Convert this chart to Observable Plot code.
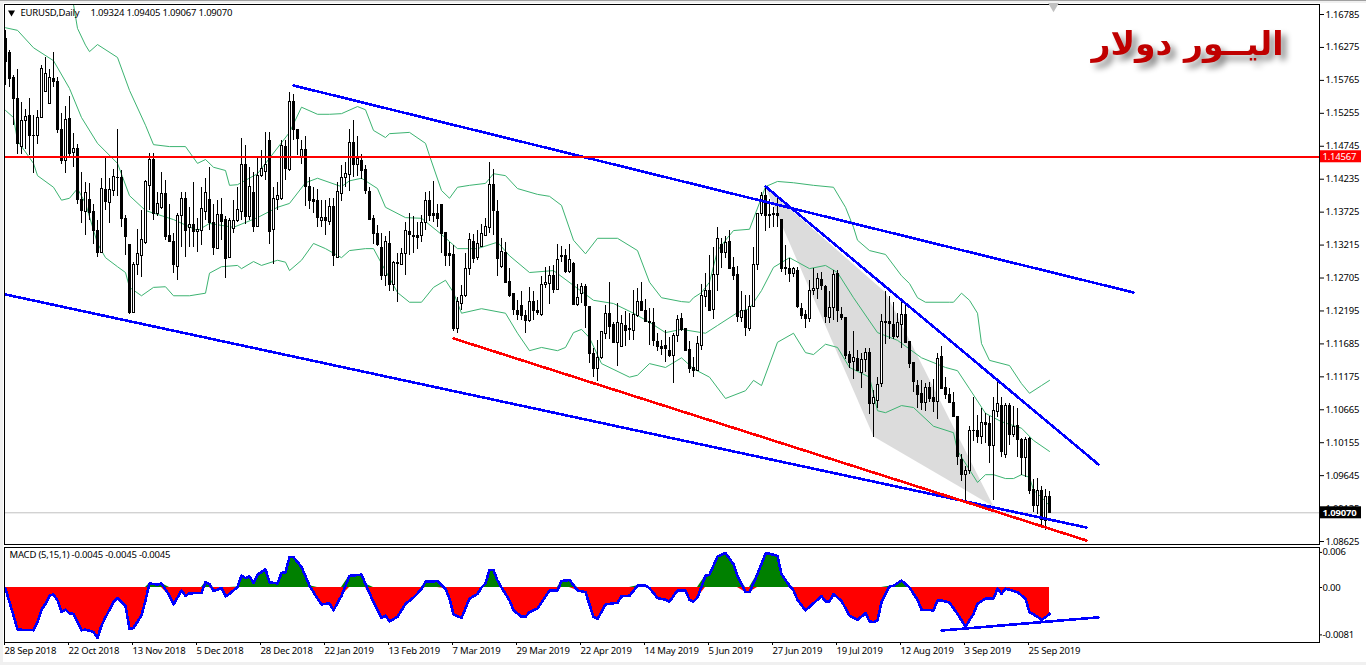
<!DOCTYPE html>
<html>
<head>
<meta charset="utf-8">
<script src="https://cdn.jsdelivr.net/npm/d3@7"></script>
<script src="https://cdn.jsdelivr.net/npm/@observablehq/plot@0.6"></script>
<style>
html,body{margin:0;padding:0;background:#fff;overflow:hidden}
body{height:665px;box-shadow:inset 0 1px 0 #a0a0a0,inset 3px 3px 0 #f0f0f0,inset -0px -3px 0 #f0f0f0}
svg{display:block;overflow:visible;letter-spacing:-0.2px}
#main{position:relative;z-index:1}
</style>
</head>
<body>
<div id="main"></div>
<div id="sub"></div>
<script>
// Daily candles, prices in units of 0.0001
const high=[11653,11623,11584,11594,11543,11532,11548,11522,11530,11599,
11612,11594,11620,11581,11525,11536,11551,11494,11477,11434,
11419,11417,11385,11359,11424,11455,11424,11439,11500,11437,
11367,11322,11295,11345,11375,11421,11464,11463,11403,11434,
11421,11384,11339,11370,11403,11403,11380,11419,11362,11411,
11424,11442,11385,11390,11393,11366,11362,11390,11411,11486,
11475,11442,11434,11455,11468,11496,11496,11411,11419,11483,
11483,11557,11555,11501,11483,11489,11426,11411,11408,11390,
11390,11394,11393,11419,11445,11450,11501,11514,11489,11461,
11445,11411,11367,11352,11340,11335,11343,11296,11308,11316,
11357,11371,11366,11357,11367,11403,11404,11420,11385,11383,
11341,11326,11321,11241,11259,11308,11340,11338,11344,11353,
11362,11449,11438,11390,11331,11326,11286,11247,11236,11250,
11220,11256,11249,11236,11273,11287,11289,11290,11323,11320,
11315,11323,11294,11260,11262,11261,11226,11161,11174,11187,
11228,11264,11202,11231,11212,11218,11215,11251,11255,11263,
11238,11224,11224,11184,11174,11189,11178,11184,11212,11215,
11192,11172,11148,11180,11261,11277,11305,11318,11349,11331,
11335,11344,11303,11288,11249,11243,11243,11317,11369,11403,
11414,11392,11380,11396,11361,11321,11300,11287,11287,11231,
11220,11267,11286,11277,11279,11259,11249,11282,11282,11225,
11209,11157,11187,11158,11153,11161,11162,11096,11117,11214,
11250,11242,11233,11216,11233,11230,11171,11139,11112,11112,
11107,11109,11113,11153,11164,11116,11099,11093,11056,10997,
10978,11040,11086,11058,11068,11060,11056,11086,11111,11086,
11076,11076,11072,11068,11022,11023,11023,10958,10960,10948,
10943,10940];
const open=[11641,11619,11580,11547,11474,11513,11522,11491,11490,11518,
11558,11540,11579,11574,11500,11451,11516,11464,11470,11391,
11372,11391,11372,11344,11309,11407,11387,11406,11426,11426,
11362,11322,11217,11290,11305,11324,11413,11453,11370,11379,
11400,11336,11327,11287,11366,11393,11348,11353,11341,11344,
11372,11391,11355,11316,11368,11361,11302,11346,11359,11372,
11445,11365,11402,11350,11428,11435,11483,11345,11391,11393,
11474,11438,11543,11500,11457,11468,11412,11392,11389,11359,
11363,11358,11381,11301,11400,11426,11430,11479,11446,11451,
11437,11403,11362,11339,11317,11273,11323,11260,11294,11290,
11308,11341,11336,11335,11335,11356,11389,11370,11370,11383,
11340,11307,11306,11192,11230,11242,11284,11327,11301,11319,
11335,11348,11414,11373,11287,11310,11265,11245,11220,11227,
11212,11204,11233,11219,11213,11259,11261,11273,11252,11304,
11304,11280,11292,11228,11245,11257,11226,11153,11130,11146,
11184,11215,11197,11170,11164,11196,11192,11189,11212,11233,
11220,11203,11201,11171,11164,11165,11157,11149,11181,11207,
11192,11159,11131,11127,11165,11241,11251,11221,11275,11322,
11310,11327,11286,11275,11208,11219,11191,11225,11291,11369,
11398,11368,11370,11370,11361,11286,11285,11276,11282,11223,
11214,11207,11250,11253,11267,11257,11208,11224,11277,11214,
11209,11151,11140,11145,11123,11144,11155,11075,11080,11106,
11203,11202,11198,11179,11198,11214,11171,11139,11104,11091,
11077,11100,11084,11079,11148,11100,11090,11077,11056,10988,
10966,10972,11034,11034,11024,11046,11044,11010,11063,11072,
10997,11072,11027,11041,11019,10992,11022,10943,10917,10940,
10895,10932];
const close=[11605,11579,11548,11478,11514,11520,11490,11490,11519,11594,
11587,11580,11574,11499,11452,11515,11463,11470,11391,11374,
11402,11371,11344,11310,11408,11388,11407,11427,11425,11362,
11334,11216,11291,11308,11329,11419,11453,11369,11385,11401,
11334,11327,11290,11366,11393,11344,11353,11341,11345,11378,
11402,11355,11317,11368,11357,11300,11359,11359,11376,11446,
11365,11412,11350,11429,11440,11445,11341,11393,11397,11475,
11440,11543,11499,11486,11468,11411,11390,11388,11363,11363,
11359,11381,11305,11404,11426,11432,11480,11446,11455,11436,
11405,11361,11338,11322,11274,11326,11259,11294,11292,11308,
11343,11337,11334,11333,11356,11389,11367,11367,11362,11338,
11305,11305,11191,11234,11243,11285,11329,11300,11323,11339,
11350,11414,11375,11300,11311,11263,11242,11221,11214,11212,
11204,11233,11219,11216,11259,11263,11273,11252,11299,11303,
11280,11299,11229,11240,11256,11227,11153,11129,11146,11187,
11215,11194,11170,11201,11200,11189,11190,11213,11234,11220,
11202,11201,11173,11164,11161,11161,11149,11181,11205,11190,
11158,11129,11127,11169,11242,11251,11220,11275,11331,11310,
11325,11285,11274,11210,11219,11193,11226,11291,11369,11398,
11366,11366,11368,11367,11284,11284,11276,11284,11225,11212,
11207,11251,11254,11269,11258,11210,11224,11275,11219,11208,
11150,11139,11147,11126,11144,11155,11075,11085,11105,11202,
11201,11200,11179,11201,11213,11170,11137,11109,11089,11077,
11100,11083,11078,11145,11099,11090,11077,11055,10993,10966,
10971,11034,11033,11024,11046,11043,11010,11064,11076,11001,
11072,11027,11040,11019,10992,11020,10941,10918,10941,10896,
10932,10907];
const low=[11569,11566,11506,11462,11462,11470,11460,11432,11478,11518,
11558,11540,11566,11494,11447,11433,11457,11442,11385,11355,
11336,11359,11323,11302,11308,11375,11355,11396,11396,11349,
11305,11214,11216,11274,11272,11323,11375,11359,11365,11377,
11329,11326,11277,11267,11318,11303,11318,11318,11310,11321,
11359,11344,11305,11316,11328,11269,11300,11339,11357,11359,
11354,11359,11341,11349,11426,11421,11323,11292,11375,11390,
11421,11436,11483,11460,11447,11381,11377,11370,11349,11349,
11336,11352,11289,11300,11389,11410,11405,11426,11428,11423,
11400,11360,11323,11320,11267,11258,11249,11249,11233,11290,
11274,11305,11309,11315,11326,11344,11358,11357,11349,11309,
11288,11289,11187,11184,11220,11241,11274,11293,11298,11317,
11335,11339,11336,11273,11286,11262,11241,11212,11205,11205,
11184,11202,11205,11212,11211,11254,11229,11247,11251,11295,
11278,11278,11228,11227,11231,11192,11138,11117,11111,11145,
11175,11175,11169,11134,11163,11164,11173,11173,11210,11218,
11201,11166,11165,11156,11151,11140,11148,11107,11171,11187,
11158,11122,11116,11126,11158,11225,11218,11207,11250,11286,
11300,11283,11267,11202,11202,11180,11187,11225,11282,11366,
11343,11347,11349,11349,11279,11274,11264,11272,11224,11207,
11193,11201,11243,11238,11251,11200,11200,11204,11201,11205,
11144,11131,11114,11125,11099,11124,11059,11024,11069,11101,
11167,11175,11176,11177,11162,11169,11130,11094,11068,11065,
11064,11078,11063,11051,11099,11083,11076,11054,10980,10956,
10926,10966,11018,11015,11012,11014,10984,10926,11055,10992,
10991,11011,11023,10993,10965,10962,10935,10907,10905,10885,
10879,10907];

// Bollinger bands as read: bar number and level
const upperBar=[17,18,20,21,23,28,31,35,37,41,45,48,50,52,55,56,58,63,71,74,78,81,84,88,90,92,95,96,101,105,106,109,111,113,116,120,122,125,128,133,136,139,142,145,148,153,158,161,164,169,171,172,174,176,178,180,182,186,189,190,193,197,202,207,210,212,213,216,220,224,226,228,230,236,237,239,241,243,244,246,251,254,256,259,261];
const upperVal=[11694,11657,11631,11621,11632,11612,11561,11507,11477,11474,11474,11448,11454,11442,11437,11414,11415,11432,11496,11535,11524,11524,11525,11536,11531,11499,11488,11494,11496,11479,11460,11406,11394,11411,11414,11417,11432,11429,11409,11400,11397,11383,11329,11308,11332,11332,11313,11264,11240,11234,11233,11240,11248,11264,11313,11329,11344,11346,11395,11412,11420,11418,11414,11411,11380,11349,11329,11313,11307,11274,11262,11240,11233,11233,11233,11247,11236,11216,11169,11143,11135,11107,11092,11104,11112];
const midBar=[0,3,7,12,16,19,23,28,31,35,42,48,51,57,63,68,71,75,78,84,86,89,93,95,100,104,109,113,118,123,126,131,137,142,147,152,157,161,165,169,175,178,183,186,189,192,196,201,205,208,212,218,223,229,235,238,241,245,249,254,257,261];
const midVal=[11658,11654,11627,11607,11564,11519,11479,11448,11398,11375,11361,11344,11355,11349,11364,11380,11386,11418,11425,11412,11421,11425,11409,11380,11364,11363,11338,11316,11316,11326,11305,11279,11282,11259,11236,11231,11216,11202,11186,11191,11185,11197,11217,11223,11251,11287,11302,11285,11290,11279,11240,11186,11174,11147,11132,11127,11099,11061,11048,11038,11019,11002];
const lowerBar=[0,2,3,7,8,12,14,16,18,20,23,25,28,30,31,34,37,40,42,46,50,51,54,58,59,62,64,68,70,71,74,77,80,84,86,90,92,94,98,101,104,107,110,112,114,119,125,128,131,134,138,140,142,144,146,149,156,158,161,165,169,172,176,180,185,187,189,193,197,200,202,205,208,211,216,218,220,224,227,232,237,238,243,245,247,250,252,254,256,257,259,261];
const lowerVal=[11530,11519,11483,11448,11429,11411,11391,11394,11409,11386,11324,11302,11288,11279,11256,11243,11256,11257,11243,11243,11247,11278,11288,11290,11285,11296,11290,11298,11295,11282,11298,11324,11316,11302,11313,11316,11316,11293,11248,11233,11233,11256,11267,11248,11216,11223,11216,11185,11158,11163,11158,11163,11186,11191,11178,11138,11117,11120,11138,11132,11147,11130,11117,11084,11096,11112,11104,11171,11185,11155,11152,11168,11163,11132,11117,11065,11062,11073,11070,11041,11031,11003,10954,10966,10966,10960,10960,10966,10962,10942,10931,10918];

// MACD (5,15,1) as read, units of 0.0001
const macdBar=[0,1,2,3,7,8,9,10,11,12,13,14,15,16,17,19,20,22,23,24,25,27,28,30,31,32,34,35,36,38,39,41,42,44,45,46,49,50,51,52,54,55,56,58,59,60,61,62,63,65,66,68,69,70,71,72,74,76,78,79,81,82,84,86,89,90,92,94,95,96,98,100,102,104,105,108,110,111,112,114,116,118,119,120,121,122,123,124,126,127,129,130,131,133,136,138,139,141,143,145,147,148,150,153,154,156,158,160,161,163,165,166,168,170,171,172,173,175,176,178,180,182,183,185,186,188,190,191,193,194,196,197,198,200,204,205,206,207,209,211,213,215,216,217,218,219,221,222,224,226,228,229,232,233,234,236,238,240,242,243,245,247,248,249,250,253,255,256,258,259,260,261];
const macdVal=[-2,-25,-48,-72,-73,-59,-38,-28,-14,-12,-22,-42,-38,-44,-45,-73,-72,-76,-86,-65,-51,-25,-18,-31,-71,-69,-48,-22,7,5,7,-14,-29,-5,-14,-10,-9,9,6,-6,-1,-15,-11,1,20,16,19,8,22,31,9,7,25,26,52,52,35,3,-19,-29,-27,-39,-14,20,22,6,-25,-52,-48,-58,-50,-28,-17,-3,10,11,-2,-19,-46,-52,-19,-11,0,7,30,30,12,0,-22,-39,-50,-50,-42,-36,-5,-5,11,13,-5,-8,-50,-54,-29,-26,-15,-14,3,3,-1,-18,-21,-24,-5,-5,-21,-24,-17,20,22,53,59,40,20,-8,-8,23,58,58,54,23,3,-5,-21,-39,-15,-24,-24,-11,-23,-48,-55,-44,-58,-59,-56,-25,2,3,12,0,-21,-38,-39,-22,-22,-26,-45,-67,-45,-28,-19,-19,-2,-11,-2,-8,-19,-42,-50,-55,-51,-45];

// Drawn objects on the chart: bar number and level of each end
const channelTop={bar:[72,282],val:[11568.6,11248.1]};
const channelLow={bar:[0,270.25],val:[11245,10884.2]};
const redLine={bar:[112,270.25],val:[11176.9,10864.1]};
const fallLine={bar:[190,273.25],val:[11412.2,10981.8]};
const shadeBar=[190,220,247,217];
const shadeVal=[11410.7,11248.1,10916.7,11025.1];
const macdTrendBar=[234,273.25];
const macdTrendVal=[-73.5,-51];

const priceTicks=[1.16785,1.16275,1.15765,1.15255,1.14745,1.14235,1.13725,1.13215,1.12705,1.12195,1.11685,1.11175,1.10665,1.10155,1.09645,1.09135,1.08625];
const macdTicks=[0.006,0,-0.0081];
const macdTickLabels=["0.006","0.00","-0.0081"];
const dateBars=[0,16,32,48,64,80,96,112,128,144,160,176,192,208,224,240,256];
const dateLabels=["28 Sep 2018","22 Oct 2018","13 Nov 2018","5 Dec 2018","28 Dec 2018","22 Jan 2019","13 Feb 2019","7 Mar 2019","29 Mar 2019","22 Apr 2019","14 May 2019","5 Jun 2019","27 Jun 2019","19 Jul 2019","12 Aug 2019","3 Sep 2019","25 Sep 2019"];
const resistance=1.14567, lastClose=1.0907;
const headerSymbol="EURUSD,Daily", headerOHLC="1.09324 1.09405 1.09067 1.09070";
const macdLabel="MACD (5,15,1) -0.0045 -0.0045 -0.0045";
const arabicTitle="اليــور دولار";

const FONT="Noto Sans", FS=9.5;
const p=v=>v/1e4;
const bars=open.map((_,i)=>i);
const pts=(b,v)=>b.map((d,i)=>({b:d,v:p(v[i])}));
const seg=o=>pts(o.bar,o.val);
const xDomain=[-0.25,328.5];
const tagL=328.75, tagR=339;
const blue={stroke:"#0000ff",strokeWidth:2.6,shapeRendering:"crispEdges"};
const red={stroke:"#ff0000",strokeWidth:2.6,shapeRendering:"crispEdges"};

const main=Plot.plot({
  width:1366,height:546,marginLeft:4,marginRight:47,marginTop:4,marginBottom:2,
  style:{background:"transparent",fontFamily:FONT,fontSize:FS+"px",color:"#000"},
  x:{domain:xDomain,axis:null},
  y:{domain:[1.08579,1.16940],axis:null},
  marks:[
    Plot.line(pts(shadeBar,shadeVal),{x:"b",y:"v",fill:"#dcdcdc",stroke:"none"}),
    Plot.ruleY([lastClose],{stroke:"#c0c0c0",strokeWidth:1}),
    Plot.line(pts(upperBar,upperVal),{x:"b",y:"v",stroke:"#3cb371",strokeWidth:1,clip:true}),
    Plot.line(pts(midBar,midVal),{x:"b",y:"v",stroke:"#3cb371",strokeWidth:1}),
    Plot.line(pts(lowerBar,lowerVal),{x:"b",y:"v",stroke:"#3cb371",strokeWidth:1}),
    Plot.ruleX(bars,{x:i=>i,y1:i=>p(low[i]),y2:i=>p(high[i]),stroke:"#000",strokeWidth:1,shapeRendering:"crispEdges"}),
    Plot.rect(bars,{x1:i=>i-0.25,x2:i=>i+0.25,y1:i=>p(open[i]),y2:i=>p(close[i]),
      fill:i=>close[i]>=open[i]?"#fff":"#000",stroke:"#000",strokeWidth:1,shapeRendering:"crispEdges"}),
    Plot.line(seg(channelTop),{x:"b",y:"v",...blue}),
    Plot.line(seg(channelLow),{x:"b",y:"v",...blue}),
    Plot.line(seg(redLine),{x:"b",y:"v",...red}),
    Plot.line(seg(fallLine),{x:"b",y:"v",...blue}),
    Plot.ruleY([resistance],{stroke:"#ff0000",strokeWidth:2,shapeRendering:"crispEdges",dy:-1}),
    Plot.frame({stroke:"#000",strokeWidth:1}),
    Plot.axisY({ticks:priceTicks,anchor:"right",tickSize:4,tickPadding:2,tickFormat:d=>d.toFixed(5),fontSize:FS,label:null,stroke:"#000",fill:"#000"}),
    Plot.rect([resistance],{x1:()=>tagL,x2:()=>tagR,y1:d=>d-0.00093,y2:d=>d+0.00093,fill:"#ff0000",clip:false,dy:-1}),
    Plot.rect([lastClose],{x1:()=>tagL,x2:()=>tagR,y1:d=>d-0.00093,y2:d=>d+0.00093,fill:"#000",clip:false}),
    Plot.text([resistance],{x:()=>tagL+0.5,y:d=>d,text:d=>d.toFixed(5),textAnchor:"start",fill:"#fff",fontSize:FS,dy:-1}),
    Plot.text([lastClose],{x:()=>tagL+0.5,y:d=>d,text:d=>d.toFixed(5),textAnchor:"start",fill:"#fff",fontSize:FS,fontWeight:"bold"}),
    Plot.dot([0],{x:()=>262,frameAnchor:"top",symbol:"triangle",r:4,rotate:180,fill:"#c0c0c0",dy:1.5}),
    Plot.dot([0],{frameAnchor:"top-left",symbol:"triangle",r:2.6,rotate:180,fill:"#000",dx:7,dy:8}),
    Plot.text([headerSymbol],{frameAnchor:"top-left",dx:16,dy:4.5,fontSize:FS,fill:"#000"}),
    Plot.text([headerOHLC],{frameAnchor:"top-left",dx:86,dy:4.5,fontSize:FS,fill:"#000"}),
    Plot.text([arabicTitle],{x:()=>295.5,y:()=>1.1632,fontFamily:"DejaVu Sans",fontWeight:"bold",fontSize:33,fill:"#c00000",imageFilter:"drop-shadow(5px 5px 3px #888)"})
  ]
});
document.getElementById("main").appendChild(main);

const macdRows=macdBar.map((b,i)=>({b,v:macdVal[i]*1e-4}));
const sub=Plot.plot({
  width:1366,height:119,marginLeft:4,marginRight:47,marginTop:1,marginBottom:23,
  style:{background:"transparent",fontFamily:FONT,fontSize:FS+"px",color:"#000"},
  x:{domain:xDomain,axis:null},
  y:{domain:[-0.0094,0.00684],axis:null},
  marks:[
    Plot.areaY(macdRows,{x:"b",y:d=>Math.min(d.v,0),fill:"#ff0000"}),
    Plot.areaY(macdRows,{x:"b",y:d=>Math.max(d.v,0),fill:"#008000"}),
    Plot.line(macdRows,{x:"b",y:"v",...blue}),
    Plot.line(macdTrendBar.map((b,i)=>({b,v:macdTrendVal[i]*1e-4})),{x:"b",y:"v",...blue}),
    Plot.frame({stroke:"#000",strokeWidth:1}),
    Plot.axisY({ticks:macdTicks,anchor:"right",tickSize:2,tickPadding:1,tickFormat:d=>macdTickLabels[macdTicks.indexOf(d)],fontSize:FS,label:null}),
    Plot.axisX({ticks:dateBars,anchor:"bottom",tickSize:3,tickPadding:2,tickFormat:b=>dateLabels[b/16],textAnchor:"start",dx:-1,fontSize:FS,label:null}),
    Plot.text([macdLabel],{frameAnchor:"top-left",dx:5,dy:3.5,fontSize:FS,fill:"#000"})
  ]
});
document.getElementById("sub").appendChild(sub);
</script>
</body>
</html>
